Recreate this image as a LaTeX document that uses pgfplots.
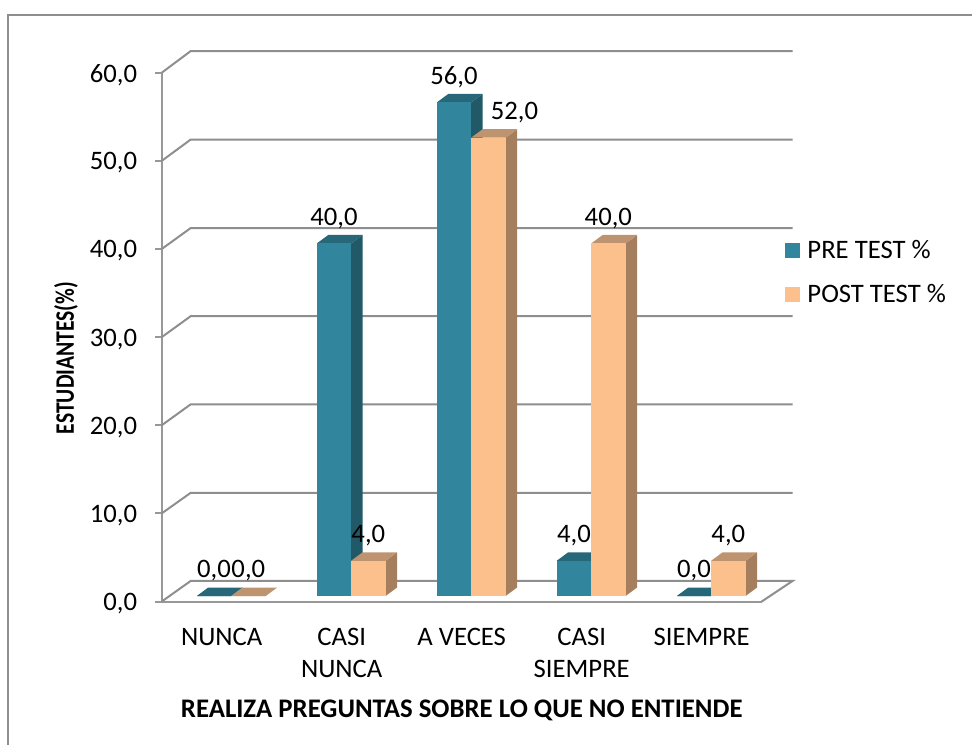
\documentclass[border=0pt]{standalone}
\usepackage{pgfplots}
\pgfplotsset{compat=1.18}
\usepackage{fontspec}
\setmainfont{Carlito}
\definecolor{tealF}{HTML}{31859C}
\definecolor{tealT}{HTML}{26677A}
\definecolor{tealS}{HTML}{215968}
\definecolor{orF}{HTML}{FCC08C}
\definecolor{orT}{HTML}{BE9470}
\definecolor{orS}{HTML}{A57E5E}
\definecolor{wallgray}{HTML}{8E8E8E}
\definecolor{axgray}{HTML}{989898}
\newcommand\bw{0.2867}
\newcommand\ddx{0.0958}
\newcommand\ddy{0.965}
\newcommand\base{0.624}
\newcommand\threedbar[5]{%
  \pgfmathsetmacro\xa{#1}\pgfmathsetmacro\xb{#1+\bw}%
  \pgfmathsetmacro\xc{#1+\ddx}\pgfmathsetmacro\xd{#1+\bw+\ddx}%
  \pgfmathsetmacro\yb{\base}\pgfmathsetmacro\yt{#2+\base}%
  \pgfmathsetmacro\yu{#2+\base+\ddy}\pgfmathsetmacro\yv{\base+\ddy}%
  \addplot[forget plot,draw=none,fill=#5] coordinates {(\xb,\yb)(\xb,\yt)(\xd,\yu)(\xd,\yv)};
  \addplot[forget plot,draw=none,fill=#4] coordinates {(\xa,\yt)(\xb,\yt)(\xd,\yu)(\xc,\yu)};
  \addplot[forget plot,draw=none,fill=#3] coordinates {(\xa,\yb)(\xb,\yb)(\xb,\yt)(\xa,\yt)};
}
\begin{document}
\begin{tikzpicture}[x=1pt,y=1pt]
\useasboundingbox (0,0) rectangle (729,558.75);
\draw[wallgray,line width=1.4pt] (6.2,0) -- (6.2,547.4) -- (729,547.4);
\begin{axis}[
  at={(121.3pt,107.6pt)},anchor=south west,
  scale only axis,width=450pt,height=396.6pt,
  xmin=0,xmax=5,ymin=0,ymax=60,clip=false,
  axis x line*=bottom,axis y line*=left,
  axis line style={axgray,line width=1.5pt,-},
  tick style={axgray,line width=1.5pt},
  tick align=outside,
  major tick length=5pt,minor tick length=5pt,
  xtick={0.5,1.5,2.5,3.5,4.5},
  xticklabels={NUNCA,{CASI\\NUNCA},A VECES,{CASI\\SIEMPRE},SIEMPRE},
  x tick style={draw=none},
  minor xtick={0,1,2,3,4,5},
  minor x tick style={axgray,line width=1.5pt},
  xticklabel style={align=center,anchor=north,yshift=-11.5pt,text depth=0pt},
  ytick={0,10,20,30,40,50,60},
  yticklabel style={/pgf/number format/fixed,/pgf/number format/zerofill,/pgf/number format/precision=1,/pgf/number format/use comma,/pgf/number format/assume math mode=true,anchor=east,xshift=-10pt,yshift=-1.5pt},
  tick label style={font=\fontsize{20}{24}\selectfont},
  xlabel={REALIZA PREGUNTAS SOBRE LO QUE NO ENTIENDE},
  ylabel={\scalebox{0.81}[1]{ESTUDIANTES(\%)}},
  every axis x label/.style={at={(axis description cs:0.5,-0.2065)},anchor=center,font=\fontsize{20.1}{24}\selectfont\bfseries},
  every axis y label/.style={at={(axis description cs:-0.1595,0.4605)},anchor=center,rotate=90,font=\fontsize{20}{24}\selectfont\bfseries},
  legend style={draw=none,fill=none,at={(axis cs:5.19,41.33)},anchor=north west,font=\fontsize{20}{24}\selectfont,row sep=14.25pt,inner sep=0pt},
  legend cell align=left,
  legend image code/.code={\fill[#1] (0pt,-5.6pt) rectangle (11.2pt,5.6pt);\path (15pt,0pt);},
]
% walls and floor
\addplot[forget plot,wallgray,line width=1.5pt] coordinates {(0,0)(0.2417,2.34)(5.258,2.34)(5,0)};
\addplot[forget plot,wallgray,line width=1.5pt] coordinates {(0,10)(0.2417,12.34)(5.258,12.34)};
\addplot[forget plot,wallgray,line width=1.5pt] coordinates {(0,20)(0.2417,22.38)(5.258,22.38)};
\addplot[forget plot,wallgray,line width=1.5pt] coordinates {(0,30)(0.2417,32.38)(5.258,32.38)};
\addplot[forget plot,wallgray,line width=1.5pt] coordinates {(0,40)(0.2417,42.38)(5.258,42.38)};
\addplot[forget plot,wallgray,line width=1.5pt] coordinates {(0,50)(0.2417,52.42)(5.258,52.42)};
\addplot[forget plot,wallgray,line width=1.5pt] coordinates {(0,60)(0.2417,62.46)(5.258,62.46)};
% bars: PRE at i+0.2917, POST at i+0.5784
\threedbar{0.2917}{0}{tealF}{tealT}{tealS}
\threedbar{0.5784}{0}{orF}{orT}{orS}
\threedbar{1.2917}{40}{tealF}{tealT}{tealS}
\threedbar{1.5784}{4}{orF}{orT}{orS}
\threedbar{2.2917}{56}{tealF}{tealT}{tealS}
\threedbar{2.5784}{52}{orF}{orT}{orS}
\threedbar{3.2917}{4}{tealF}{tealT}{tealS}
\threedbar{3.5784}{40}{orF}{orT}{orS}
\threedbar{4.2917}{0}{tealF}{tealT}{tealS}
\threedbar{4.5784}{4}{orF}{orT}{orS}
% value labels
\addplot[forget plot,draw=none,point meta=explicit,
  nodes near coords={\pgfmathprintnumber[fixed,zerofill,precision=1,use comma,assume math mode=true]{\pgfplotspointmeta}},
  nodes near coords align={center},
  every node near coord/.append style={font=\fontsize{20}{24}\selectfont,black,yshift=18.8pt,inner sep=0pt}]
  coordinates {(0.435,0.624)[0] (0.7217,0.624)[0]
   (1.435,40.624)[40] (1.7217,4.624)[4]
   (2.435,56.624)[56] (2.94,52.624)[52]
   (3.435,4.624)[4] (3.7217,40.624)[40]
   (4.435,0.624)[0] (4.7217,4.624)[4]};
\addlegendimage{fill=tealF,draw=none}\addlegendentry{PRE TEST \%}
\addlegendimage{fill=orF,draw=none}\addlegendentry{POST TEST \%}
\end{axis}
\end{tikzpicture}
\end{document}
